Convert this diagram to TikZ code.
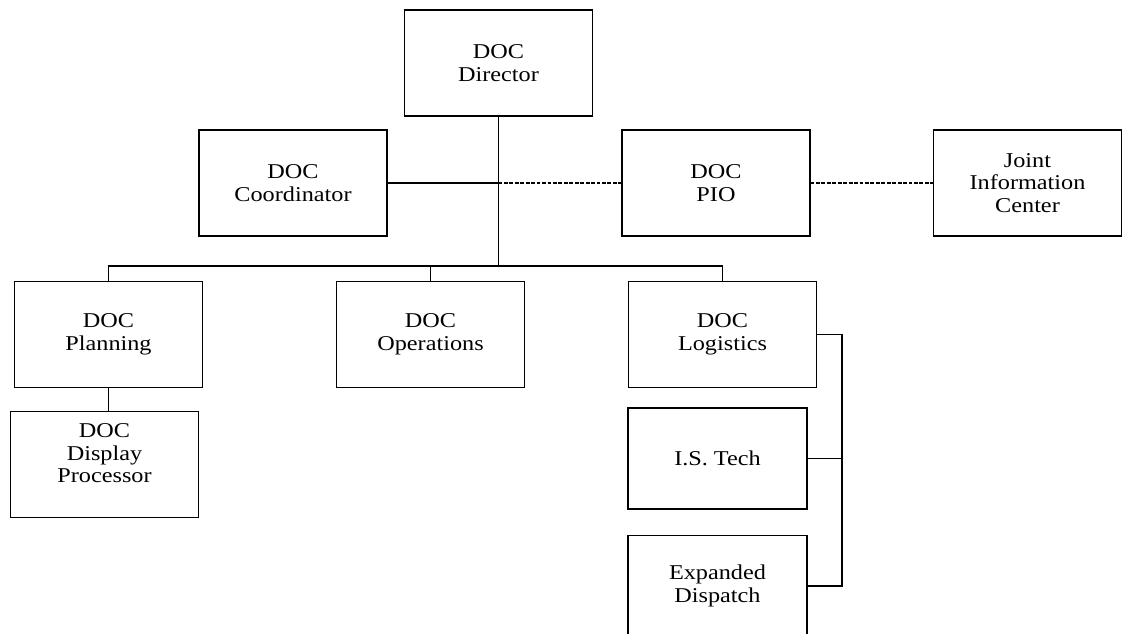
\documentclass[tikz,border=0pt]{standalone}
\usepackage{fontspec}
\setmainfont{Liberation Serif}[FakeStretch=1.15]
\usepackage{tikz}

\begin{document}
\begin{tikzpicture}[x=0.02cm,y=-0.02cm,
	office/.style={draw,line width=0.6pt,inner sep=0pt,align=center,minimum width=3.76cm,minimum height=2.12cm,font=\fontsize{12}{12.8}\selectfont},
	staff/.style={office,minimum width=3.58cm,minimum height=2.02cm},
	link/.style={line width=0.6pt},
	liaison/.style={line width=0.6pt,dash pattern=on 2.2pt off 0.9pt}]
	\useasboundingbox (0,0) rectangle (1133,634);
	\clip (0,0) rectangle (1133,634);

	\node[office](director) at (498.5,63) {DOC\\Director};
	\node[office](coordinator) at (293,183) {DOC\\Coordinator};
	\node[office](pio) at (716,183) {DOC\\PIO};
	\node[office](jic) at (1027.5,183) {Joint\\Information\\Center};
	\node[office](planning) at (108.5,334.5) {DOC\\Planning};
	\node[office](display) at (104.5,464.5) {DOC\\Display\\Processor\\ \mbox{}};
	\node[office](operations) at (430.5,334.5) {DOC\\Operations};
	\node[office](logistics) at (722.5,334.5) {DOC\\Logistics};
	\node[staff](istech) at (717.5,458.5) {I.S. Tech};
	\node[staff](dispatch) at (717.5,586) {Expanded\\Dispatch};

	\coordinate (hub) at (498.5,183);
	\coordinate (bus) at (498.5,266);
	\coordinate (rail) at (842,334.5);

	\draw[link] (director) -- (bus);
	\draw[link] (planning) |- (bus) -| (logistics);
	\draw[link] (operations) -- (operations |- bus);
	\draw[link] (coordinator) -- (hub);
	\draw[liaison] (hub) -- (pio);
	\draw[liaison] (pio) -- (jic);
	\draw[link] (planning.south) -- (planning.south |- display.north);
	\draw[link] (logistics) -- (rail) |- (dispatch);
	\draw[link] (istech) -- (istech -| rail);
\end{tikzpicture}
\end{document}
